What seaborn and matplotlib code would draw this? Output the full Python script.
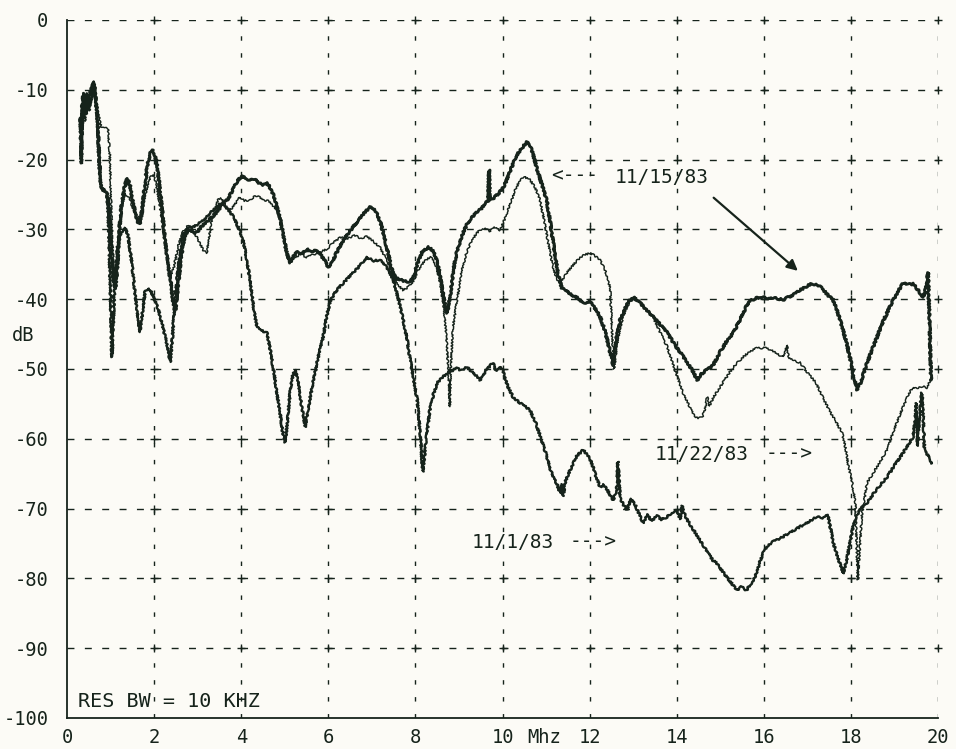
import matplotlib
matplotlib.use("Agg")
import numpy as np
import pandas as pd
import matplotlib.pyplot as plt
import seaborn as sns

# ---- spectrum traces (frequency in MHz, level in dB) ----
freq_1115 = [0.32, 0.35, 0.38, 0.43, 0.48, 0.53, 0.58, 0.62, 0.66, 0.7, 0.74, 0.78, 0.84, 0.9, 0.95, 0.99,
             1.03, 1.07, 1.11, 1.15, 1.2, 1.26, 1.32, 1.38, 1.44, 1.5, 1.56, 1.62, 1.67, 1.72, 1.78, 1.84,
             1.9, 1.95, 2.0, 2.06, 2.12, 2.18, 2.25, 2.32, 2.38, 2.44, 2.49, 2.55, 2.62, 2.7, 2.8, 2.9,
             3.0, 3.1, 3.2, 3.3, 3.4, 3.5, 3.6, 3.7, 3.8, 3.9, 4.0, 4.1, 4.2, 4.3, 4.4, 4.5, 4.6, 4.68,
             4.75, 4.82, 4.9, 4.97, 5.05, 5.12, 5.2, 5.3, 5.4, 5.5, 5.6, 5.7, 5.8, 5.9, 6.0, 6.1, 6.2,
             6.35, 6.5, 6.65, 6.8, 6.96, 7.08, 7.2, 7.32, 7.45, 7.55, 7.7, 7.85, 7.95, 8.05, 8.15, 8.3,
             8.42, 8.52, 8.6, 8.67, 8.73, 8.8, 8.88, 8.96, 9.06, 9.18, 9.3, 9.4, 9.5, 9.6, 9.67, 9.69,
             9.71, 9.8, 9.9, 10.0, 10.1, 10.2, 10.33, 10.45, 10.56, 10.63, 10.7, 10.8, 10.9, 11.02, 11.12,
             11.2, 11.28, 11.36, 11.45, 11.55, 11.65, 11.75, 11.85, 12.0, 12.12, 12.24, 12.35, 12.45,
             12.54, 12.62, 12.7, 12.8, 12.9, 13.0, 13.1, 13.2, 13.3, 13.46, 13.6, 13.78, 13.95, 14.1,
             14.24, 14.36, 14.47, 14.55, 14.65, 14.83, 15.0, 15.15, 15.3, 15.45, 15.6, 15.7, 15.85,
             15.98, 16.1, 16.25, 16.44, 16.6, 16.72, 16.83, 16.95, 17.05, 17.13, 17.25, 17.35, 17.45,
             17.59, 17.7, 17.8, 17.9, 18.0, 18.08, 18.14, 18.22, 18.35, 18.5, 18.6, 18.75, 18.9, 18.97,
             19.1, 19.2, 19.3, 19.43, 19.55, 19.66, 19.72, 19.77, 19.8, 19.84]
db_1115 = [-20.5, -12, -10.5, -13.5, -12, -10.5, -9.5, -9, -11, -14, -20, -24, -24.3, -24.6, -26, -29,
           -34, -37.5, -38.5, -36, -30, -26, -24, -22.7, -23.5, -25.5, -27.5, -29, -29.2, -27.5, -24, -21,
           -19.3, -18.6, -19, -20.5, -23.5, -27, -31.5, -35, -37.5, -40.5, -41.5, -38, -34, -31, -30, -30.5,
           -30.3, -29.5, -29, -28.4, -27.8, -27, -26.2, -25.6, -24.4, -23.2, -22.4, -22.6, -23, -22.8, -23.3,
           -23.6, -23.4, -24.2, -25.2, -26.8, -28.6, -31, -33.5, -34.8, -33.8, -33.2, -33.5, -32.8, -33.3,
           -32.9, -33.4, -34.3, -35.4, -34.5, -33.2, -31.5, -30.2, -29, -27.8, -26.8, -27.3, -29, -32,
           -35.5, -37, -37.3, -37.6, -37, -34.8, -33.3, -32.5, -33.2, -35, -38, -40.5, -42, -39.5, -35.5,
           -33, -31, -29.3, -28.3, -27.6, -27.1, -26.3, -25.9, -21.5, -25.8, -25.5, -24.9, -24.2, -22.9,
           -21.2, -19.3, -18.3, -17.5, -18, -19.2, -21.5, -23.5, -26, -30, -33.5, -36.5, -38.4, -38.8,
           -39.2, -39.6, -39.9, -40.6, -40.3, -41.3, -42.5, -44.5, -47, -49.5, -45.5, -43, -41.5, -40.3,
           -39.7, -40.2, -40.8, -41.5, -42.5, -43.5, -44.8, -46.5, -47.8, -49.1, -50.2, -51.6, -50.8,
           -50.3, -49.5, -47.5, -46, -44.8, -43, -41, -40.2, -39.8, -39.7, -40, -39.8, -40.1, -39.6,
           -39.2, -38.7, -38.3, -37.9, -37.8, -38, -38.5, -39.3, -40.1, -42, -44, -46.3, -49, -51.5, -53,
           -52, -49.5, -47, -45.4, -43, -41, -40.1, -38.7, -37.7, -37.9, -37.8, -38.8, -39.7, -38.5,
           -36.2, -42, -51.6]

freq_1122 = [0.33, 0.36, 0.41, 0.46, 0.52, 0.57, 0.61, 0.66, 0.72, 0.78, 0.86, 0.94, 0.98, 1.01, 1.04,
             1.08, 1.12, 1.16, 1.21, 1.27, 1.33, 1.4, 1.47, 1.55, 1.63, 1.7, 1.78, 1.86, 1.92, 1.98, 2.04,
             2.12, 2.2, 2.28, 2.37, 2.45, 2.55, 2.65, 2.78, 2.9, 3.02, 3.13, 3.21, 3.3, 3.4, 3.48,
             3.55, 3.63, 3.72, 3.81, 3.9, 3.97, 4.08, 4.2, 4.32, 4.43, 4.52, 4.59, 4.7, 4.82, 4.94, 5.03,
             5.12, 5.22, 5.35, 5.5, 5.65, 5.8, 5.97, 6.1, 6.27, 6.45, 6.6, 6.75, 6.89, 7.05, 7.19, 7.35,
             7.49, 7.6, 7.72, 7.85, 7.95, 8.05, 8.15, 8.25, 8.35, 8.45, 8.55, 8.65, 8.72, 8.77, 8.79, 8.81,
             8.86, 8.96, 9.06, 9.18, 9.3, 9.4, 9.48, 9.6, 9.7, 9.8, 9.94, 10.02, 10.1, 10.2, 10.3, 10.4,
             10.5, 10.63, 10.75, 10.86, 10.95, 11.05, 11.16, 11.24, 11.32, 11.4, 11.48, 11.58, 11.68,
             11.78, 11.9, 12.0, 12.1, 12.24, 12.35, 12.42, 12.47, 12.51, 12.56, 12.62, 12.7, 12.8, 12.9,
             13.0, 13.15, 13.3, 13.46, 13.6, 13.78, 13.95, 14.15, 14.3, 14.42, 14.58, 14.66, 14.7, 14.75,
             14.85, 15.0, 15.15, 15.3, 15.52, 15.7, 15.84, 16.07, 16.25, 16.44, 16.5, 16.53, 16.57, 16.7,
             16.83, 17.0, 17.2, 17.35, 17.5, 17.65, 17.8, 17.88, 17.93, 18.02, 18.1, 18.13, 18.16, 18.2,
             18.25, 18.37, 18.5, 18.65, 18.83, 19.0, 19.2, 19.33, 19.43, 19.55, 19.65, 19.75, 19.82]
db_1122 = [-19, -12.5, -14.5, -11.5, -13, -10, -9.5, -12.5, -13.5, -15.3, -15.3, -15.5, -19, -26, -32,
           -36, -37.5, -35, -30.5, -26.5, -24.8, -25.3, -26.2, -27.5, -28.5, -27.6, -25.5, -23.3, -22.5,
           -22.2, -23.3, -26, -29.5, -33.5, -36.8, -35.5, -32.5, -30.5, -29.4, -30.2, -31.6, -33, -33.4,
           -29.5, -26.8, -25.6, -25.6, -26.5, -27.3, -26.8, -26, -25.4, -25.9, -25.8, -25.2, -25.4,
           -25.9, -25.8, -26.4, -27.2, -29.6, -32.5, -34.6, -34.2, -33.5, -34, -33.6, -33.3, -32.8, -32,
           -31.1, -31.3, -30.8, -31.3, -31, -31.8, -32.6, -34.5, -36.8, -38, -38.7, -38.2, -37.4, -36,
           -35, -34.3, -34, -34.8, -37, -41, -46, -52, -55.4, -50, -44, -40, -36, -33.2, -31.5, -30.6,
           -30.1, -29.8, -30.3, -29.6, -30.1, -29, -27.7, -26, -24.2, -23, -22.5, -22.9, -24, -25.8,
           -28.5, -32, -35.4, -37, -37.7, -37, -36.2, -35.4, -34.7, -34, -33.6, -33.4, -33.7, -34.4,
           -35.8, -37, -38.5, -44, -50, -47, -44, -42, -40.6, -39.9, -40.6, -41.5, -42.6, -44.5, -46.8,
           -50, -53.5, -55.5, -57, -57, -55.5, -54, -55.3, -54, -52.5, -51.1, -49.7, -48.3, -47.4, -47,
           -47, -47.6, -48.3, -47.5, -46.6, -48.5, -48.8, -49.1, -50.5, -52, -54, -55.9, -57.5, -59.2,
           -61.5, -63.5, -66, -69.2, -75, -80.2, -76, -71, -66.3, -65, -63.5, -61.6, -58.5, -55.4, -53.5,
           -52.6, -52.7, -52.5, -52.7, -51.5]

freq_1101 = [0.3, 0.33, 0.36, 0.4, 0.45, 0.5, 0.55, 0.6, 0.65, 0.7, 0.74, 0.79, 0.86, 0.92, 0.96, 1.0,
             1.03, 1.06, 1.1, 1.16, 1.24, 1.33, 1.4, 1.48, 1.56, 1.63, 1.68, 1.73, 1.79, 1.86, 1.94, 2.02,
             2.1, 2.18, 2.26, 2.33, 2.37, 2.42, 2.48, 2.56, 2.67, 2.78, 2.9, 3.02, 3.15, 3.28, 3.4, 3.52,
             3.62, 3.72, 3.85, 3.95, 4.04, 4.12, 4.2, 4.28, 4.36, 4.47, 4.59, 4.66, 4.73, 4.81, 4.89, 4.95,
             5.01, 5.06, 5.12, 5.18, 5.24, 5.3, 5.38, 5.47, 5.53, 5.6, 5.66, 5.76, 5.88, 5.96, 6.04, 6.18,
             6.34, 6.45, 6.57, 6.72, 6.89, 7.05, 7.18, 7.26, 7.38, 7.49, 7.6, 7.72, 7.8, 7.88, 7.96, 8.04,
             8.1, 8.17, 8.25, 8.33, 8.42, 8.5, 8.62, 8.73, 8.85, 8.95, 9.05, 9.18, 9.3, 9.4, 9.48, 9.56,
             9.65, 9.78, 9.85, 9.93, 10.01, 10.12, 10.24, 10.35, 10.45, 10.55, 10.63, 10.75, 10.86, 11.0,
             11.08, 11.16, 11.25, 11.32, 11.36, 11.39, 11.45, 11.55, 11.7, 11.85, 11.95, 12.05, 12.15,
             12.24, 12.32, 12.4, 12.54, 12.62, 12.65, 12.7, 12.78, 12.86, 12.95, 13.05, 13.15, 13.23,
             13.32, 13.42, 13.55, 13.65, 13.78, 13.88, 14.0, 14.08, 14.12, 14.18, 14.24, 14.38, 14.53,
             14.68, 14.83, 14.95, 15.05, 15.15, 15.27, 15.38, 15.48, 15.6, 15.7, 15.8, 15.9, 15.98, 16.1,
             16.2, 16.3, 16.45, 16.6, 16.72, 16.83, 16.95, 17.1, 17.22, 17.35, 17.47, 17.52, 17.6, 17.7,
             17.82, 17.9, 17.98, 18.05, 18.15, 18.25, 18.37, 18.5, 18.65, 18.83, 19.0, 19.2, 19.32, 19.43,
             19.48, 19.5, 19.53, 19.56, 19.6, 19.63, 19.66, 19.69, 19.75, 19.8, 19.86]
db_1101 = [-14, -20.5, -12, -13.5, -10.5, -12.5, -11.5, -8.8, -11, -14.5, -21, -24.2, -24.6, -25, -30,
           -40, -48.3, -44, -37, -32.5, -30.5, -29.8, -30.8, -34.5, -39, -43, -44.7, -42, -39, -38.4, -39,
           -40.3, -41.5, -43.5, -45.5, -47.5, -49, -45.5, -40, -35, -30.6, -29.8, -29.6, -29.2, -28.6,
           -27.7, -27, -26.3, -26.6, -27.3, -28.5, -30, -31.5, -34, -37.2, -41, -44, -44.5, -44.8, -47,
           -49.7, -53, -56.3, -59, -60.5, -57.5, -53.5, -51, -50.1, -51.5, -55, -58.3, -56, -53.5, -51.6,
           -48.5, -45.4, -42.5, -40.3, -38.8, -37.7, -37, -36.2, -35.2, -34, -34.5, -34.4, -34.8, -35.8,
           -37.2, -39.8, -43, -45.5, -48.7, -51.5, -54.4, -58.5, -64.7, -60, -55.9, -53.5, -52, -51.2,
           -50.6, -50.2, -49.9, -50.2, -49.7, -50.4, -51, -51.6, -51, -50, -49.1, -50.3, -49.7, -50.3,
           -52.5, -54, -54.6, -55.1, -55.5, -55.9, -57.5, -59.5, -62.2, -64, -65.5, -66.5, -67.8, -66.5,
           -68.2, -66, -64.5, -62.5, -61.6, -62.3, -63.5, -65.5, -66.9, -66.6, -67.3, -68.8, -67.5,
           -63.3, -68.5, -69.5, -70.2, -68.6, -69.5, -71, -72.1, -70.8, -71.8, -71, -71.6, -71.2, -70.6,
           -70.2, -71.5, -69.6, -70.8, -71.6, -73, -74.5, -76, -77.4, -78, -79, -79.8, -80.8, -81.7,
           -81.2, -81.7, -80.8, -79.8, -77.8, -76.4, -75.3, -74.8, -74.5, -74, -73.4, -73, -72.6, -72.2,
           -71.6, -71.2, -71.3, -70.9, -72.5, -75, -77, -79.3, -77.5, -74.8, -72.6, -70.8, -69.8, -69.2,
           -68, -66.8, -65.5, -63.8, -62, -60.8, -59.7, -57, -54.9, -61, -58, -55, -53.4, -57, -61.6,
           -62.2, -62.8, -63.5]

# ---- axis labelling ----
x_ticks = [0, 2, 4, 6, 8, 10, 12, 14, 16, 18, 20]
x_tick_labels = ["0", "2", "4", "6", "8", "10", "12", "14", "16", "18", "20"]
y_ticks = [-100, -90, -80, -70, -60, -50, -40, -30, -20, -10, 0]
y_tick_labels = ["-100", "-90", "-80", "-70", "-60", "-50", "-40", "-30", "-20", "-10", "0"]

INK = "#16231b"
PAPER = "#fcfbf6"

sns.set_style("white")
plt.rcParams["font.family"] = ["DejaVu Sans Mono", "DejaVu Sans"]
plt.rcParams["lines.scale_dashes"] = False

fig = plt.figure(figsize=(9.56, 7.49), dpi=100, facecolor=PAPER)
ax = fig.add_axes([0.0701, 0.0414, 0.9111, 0.9319])
ax.set_facecolor(PAPER)

# dashed plotter grid with "+" at every crossing
for yv in y_ticks[1:]:
    ax.axhline(yv, color=INK, linewidth=1.0, linestyle=(0, (5, 7.5)), zorder=1)
for xv in x_ticks[1:]:
    ax.axvline(xv, color=INK, linewidth=1.0, linestyle=(0, (3.2, 9)), zorder=1)
gx, gy = np.meshgrid(x_ticks[1:], y_ticks[1:])
ax.scatter(gx.ravel(), gy.ravel(), marker="+", s=40, c=INK, linewidths=1.0, zorder=2, clip_on=False)

# spectrum traces
traces = [
    ("11/15/83", freq_1115, db_1115, 2.1),
    ("11/22/83", freq_1122, db_1122, 1.05),
    ("11/1/83", freq_1101, db_1101, 1.7),
]
for name, f, d, lw in traces:
    df = pd.DataFrame({"MHz": f, "dB": d})
    sns.lineplot(data=df, x="MHz", y="dB", ax=ax, color=INK, linewidth=lw,
                 estimator=None, sort=False, zorder=3)
    ax.lines[-1].set_sketch_params(scale=0.9, length=2.5, randomness=4)

ax.set_xlim(0, 20)
ax.set_ylim(-100, 0)
ax.set_xticks(x_ticks)
ax.set_xticklabels(x_tick_labels)
ax.set_yticks(y_ticks)
ax.set_yticklabels(y_tick_labels)
ax.set_xlabel("")
ax.set_ylabel("")

for side in ("top", "right"):
    ax.spines[side].set_visible(False)
for side in ("left", "bottom"):
    ax.spines[side].set_color(INK)
    ax.spines[side].set_linewidth(1.3)

ax.tick_params(axis="both", direction="inout", length=9, width=1.1, color=INK,
               labelcolor=INK, labelsize=13.5)
ax.tick_params(axis="y", pad=9)
ax.tick_params(axis="x", pad=2.5)

# unit next to the 10 MHz label, dB label on the y axis
ax.text(10.56, -0.028, "Mhz", transform=ax.get_xaxis_transform(), ha="left", va="center",
        fontsize=13.5, color=INK, clip_on=False)
ax.text(-1.27, -45.2, "dB", ha="left", va="center", fontsize=13.5, color=INK, clip_on=False)

ax.text(0.25, -97.6, "RES BW = 10 KHZ", ha="left", va="center", fontsize=14.5, color=INK)

# trace labels
lab_kw = dict(ha="left", va="center", fontsize=14, color=INK)
ax.text(11.12, -22.4, "<---", **lab_kw)
ax.text(12.58, -22.6, "11/15/83", **lab_kw)
ax.annotate("", xy=(16.83, -36.2), xytext=(14.8, -25.2),
            arrowprops=dict(arrowstyle="-|>", color=INK, lw=1.6, mutation_scale=16))
ax.text(13.5, -62.3, "11/22/83", **lab_kw)
ax.text(16.03, -62.2, "--->", **lab_kw)
ax.text(9.3, -74.9, "11/1/83", **lab_kw)
ax.text(11.55, -74.8, "--->", **lab_kw)

fig.savefig("out.png", dpi=100, facecolor=PAPER)
